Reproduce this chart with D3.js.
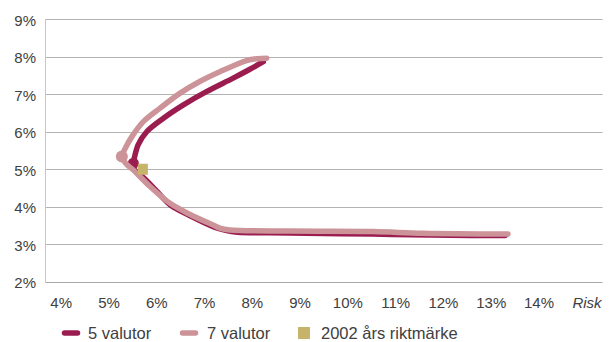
<!DOCTYPE html>
<html>
<head>
<meta charset="utf-8">
<script src="https://cdn.jsdelivr.net/npm/d3@7"></script>
<style>
  html, body { margin: 0; padding: 0; background: #fff; }
  svg { display: block; }
  text { font-family: "Liberation Sans", Arial, sans-serif; fill: #404040; }
</style>
</head>
<body>
<svg id="chart" width="611" height="342"></svg>
<script>
// ---- data (risk %, return %) ----
const seriesNames = ["5 valutor", "7 valutor", "2002 års riktmärke"];
const risk5 = [8.24, 7.95, 7.61, 7.05, 6.56, 6.15, 5.80, 5.62, 5.52, 5.49, 5.56, 5.73, 6.00, 6.29, 6.72, 7.19, 7.45, 7.70, 8.79, 10.53, 12.15, 13.30];
const ret5  = [7.87, 7.66, 7.43, 7.07, 6.71, 6.36, 6.00, 5.65, 5.20, 5.11, 4.96, 4.78, 4.43, 4.05, 3.75, 3.47, 3.37, 3.32, 3.30, 3.27, 3.24, 3.23];
const risk7 = [8.31, 8.10, 7.89, 7.33, 6.91, 6.50, 6.08, 5.73, 5.49, 5.34, 5.28, 5.36, 5.52, 5.87, 6.29, 6.70, 7.19, 7.33, 7.54, 8.79, 10.53, 11.58, 13.36];
const ret7  = [7.96, 7.95, 7.90, 7.60, 7.34, 7.03, 6.63, 6.27, 5.87, 5.53, 5.34, 5.16, 4.98, 4.54, 4.09, 3.80, 3.51, 3.43, 3.38, 3.35, 3.34, 3.29, 3.27];
const minVar5 = [5.52, 5.16];
const minVar7 = [5.28, 5.34];
const benchmark = [5.72, 5.0];
const xTicks = [4, 5, 6, 7, 8, 9, 10, 11, 12, 13, 14];
const yTicks = [2, 3, 4, 5, 6, 7, 8, 9];
const colors = ["#9b1d50", "#cc9398", "#c8b36b"];

const svg = d3.select("#chart");
const x = d3.scaleLinear().domain([4, 14]).range([60.7, 538.5]);
const y = d3.scaleLinear().domain([2, 9]).range([281.7, 19.3]);
const plotLeft = 45.5, plotRight = 602.5;
const FONT = "'Liberation Sans', Arial, sans-serif";

// gridlines
svg.append("g").selectAll("line").data(yTicks.filter(d => d > 2)).join("line")
  .attr("x1", plotLeft).attr("x2", plotRight)
  .attr("y1", d => Math.round(y(d)) + 0.5).attr("y2", d => Math.round(y(d)) + 0.5)
  .attr("stroke", "#b3b3b3").attr("stroke-width", 1);
// axis lines
svg.append("line").attr("x1", plotLeft).attr("x2", plotLeft)
  .attr("y1", Math.round(y(9)) + 0.5).attr("y2", Math.round(y(2)) + 0.5)
  .attr("stroke", "#c6c6c6").attr("stroke-width", 1);
svg.append("line").attr("x1", plotLeft).attr("x2", plotRight)
  .attr("y1", Math.round(y(2)) + 0.5).attr("y2", Math.round(y(2)) + 0.5)
  .attr("stroke", "#a8a8a8").attr("stroke-width", 1);

// y axis labels
const yAxis = d3.axisLeft(y).tickValues(yTicks).tickSize(0).tickPadding(0)
  .tickFormat(d => d + "%");
const gy = svg.append("g").attr("transform", "translate(36,1)").call(yAxis);
gy.select(".domain").remove();
gy.selectAll("text").style("font-size", "15px").attr("fill", "#404040").style("font-family", FONT);

// x axis labels
const xAxis = d3.axisBottom(x).tickValues(xTicks).tickSize(0).tickPadding(0)
  .tickFormat(d => d + "%");
const gx = svg.append("g").attr("transform", "translate(0,297)").call(xAxis);
gx.select(".domain").remove();
gx.selectAll("text").style("font-size", "15px").attr("fill", "#404040").style("font-family", FONT);
svg.append("text").attr("x", 587).attr("y", 308).attr("text-anchor", "middle")
  .style("font-size", "15px").style("font-style", "italic").text("Risk");

// curves
const line = d3.line().x(d => x(d[0])).y(d => y(d[1])).curve(d3.curveCatmullRom.alpha(0.5));
const pts5 = risk5.map((r, i) => [r, ret5[i]]);
const pts7 = risk7.map((r, i) => [r, ret7[i]]);
svg.append("path").datum(pts5).attr("d", line).attr("fill", "none")
  .attr("stroke", colors[0]).attr("stroke-width", 5.5).attr("stroke-linecap", "round").attr("stroke-linejoin", "round");
svg.append("circle").attr("cx", x(minVar5[0])).attr("cy", y(minVar5[1])).attr("r", 5.5).attr("fill", colors[0]);
svg.append("path").datum(pts7).attr("d", line).attr("fill", "none")
  .attr("stroke", colors[1]).attr("stroke-width", 5.5).attr("stroke-linecap", "round").attr("stroke-linejoin", "round");
svg.append("circle").attr("cx", x(minVar7[0])).attr("cy", y(minVar7[1])).attr("r", 6).attr("fill", colors[1]);

// benchmark square
svg.append("rect").attr("x", x(benchmark[0]) - 5).attr("y", y(benchmark[1]) - 5.5)
  .attr("width", 10).attr("height", 11).attr("fill", colors[2]);

// legend
const legY = 333;
const leg = svg.append("g");
const legItems = [
  { name: seriesNames[0], color: colors[0], type: "line", x: 62, tx: 88 },
  { name: seriesNames[1], color: colors[1], type: "line", x: 180, tx: 207 },
  { name: seriesNames[2], color: colors[2], type: "rect", x: 298, tx: 321 }
];
legItems.forEach(it => {
  if (it.type === "line") {
    leg.append("line").attr("x1", it.x + 2.5).attr("x2", it.x + 15.5).attr("y1", legY).attr("y2", legY)
      .attr("stroke", it.color).attr("stroke-width", 5.5).attr("stroke-linecap", "round");
  } else {
    leg.append("rect").attr("x", it.x).attr("y", legY - 6).attr("width", 12).attr("height", 12).attr("fill", it.color);
  }
  leg.append("text").attr("x", it.tx).attr("y", legY + 6).style("font-size", "16.5px").text(it.name);
});
</script>
</body>
</html>
